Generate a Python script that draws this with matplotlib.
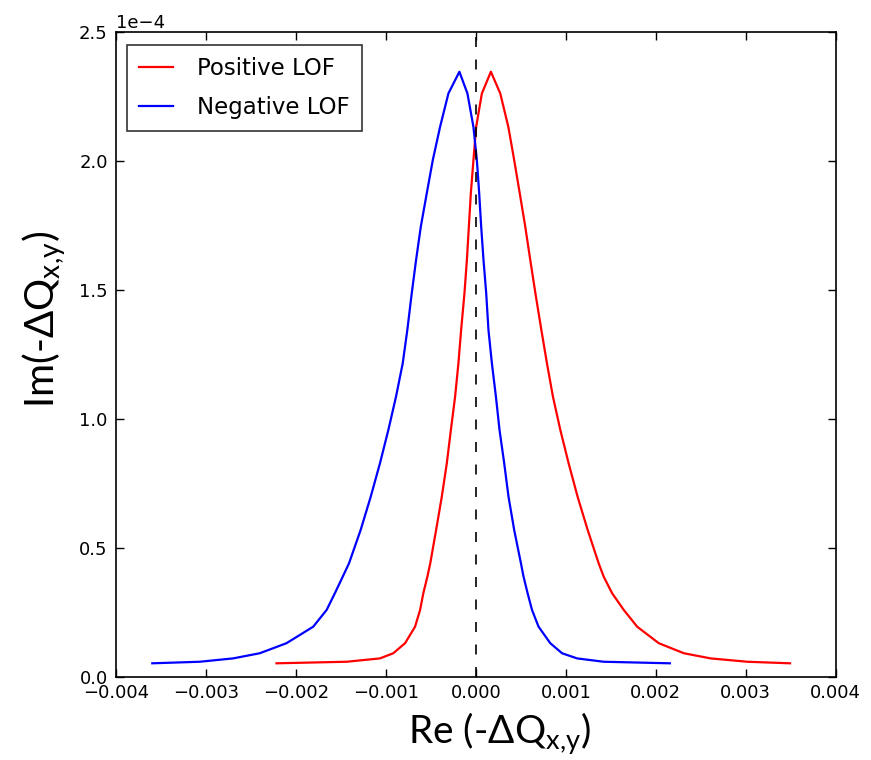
import numpy as np
import matplotlib
matplotlib.use("Agg")
import matplotlib.pyplot as plt

# ---- Data: x in units of 1e-3, y in units of 1e-4 ----
pos_x = [-2.216, -1.437, -1.066, -0.918, -0.787, -0.676, -0.620, -0.584, -0.539,
         -0.507, -0.442, -0.379, -0.323, -0.278, -0.231, -0.194, -0.164, -0.127,
         -0.100, -0.078, -0.056, -0.027, 0.003, 0.067, 0.167, 0.271, 0.361, 0.426,
         0.488, 0.549, 0.605, 0.662, 0.728, 0.790, 0.857, 0.939, 1.031, 1.131,
         1.243, 1.365, 1.421, 1.514, 1.644, 1.793, 2.033, 2.312, 2.609, 3.018, 3.492]
pos_y = [0.052, 0.058, 0.071, 0.091, 0.130, 0.194, 0.259, 0.324, 0.388,
         0.440, 0.569, 0.698, 0.828, 0.957, 1.086, 1.216, 1.345, 1.487,
         1.616, 1.746, 1.875, 2.004, 2.133, 2.263, 2.347, 2.263, 2.133, 2.004,
         1.875, 1.746, 1.616, 1.487, 1.345, 1.216, 1.086, 0.957, 0.828, 0.698,
         0.569, 0.440, 0.388, 0.324, 0.259, 0.194, 0.130, 0.091, 0.071, 0.058, 0.052]

neg_x = [-3.597, -3.070, -2.699, -2.402, -2.105, -1.808, -1.659, -1.567, -1.480,
         -1.410, -1.281, -1.169, -1.066, -0.973, -0.888, -0.813, -0.762, -0.713,
         -0.665, -0.612, -0.546, -0.479, -0.398, -0.305, -0.183, -0.094, -0.027,
         0.011, 0.037, 0.059, 0.085, 0.115, 0.140, 0.178, 0.223, 0.263, 0.315,
         0.363, 0.426, 0.501, 0.530, 0.575, 0.624, 0.697, 0.827, 0.958, 1.125,
         1.421, 2.156]
neg_y = [0.052, 0.058, 0.071, 0.091, 0.130, 0.194, 0.259, 0.324, 0.388,
         0.440, 0.569, 0.698, 0.828, 0.957, 1.086, 1.216, 1.345, 1.487,
         1.616, 1.746, 1.875, 2.004, 2.133, 2.263, 2.347, 2.263, 2.133,
         2.004, 1.875, 1.746, 1.616, 1.487, 1.345, 1.216, 1.086, 0.957, 0.828,
         0.698, 0.569, 0.440, 0.388, 0.324, 0.259, 0.194, 0.130, 0.091, 0.071,
         0.058, 0.052]

labels = ["Positive LOF", "Negative LOF"]
xticks = [-0.004, -0.003, -0.002, -0.001, 0.0, 0.001, 0.002, 0.003, 0.004]
xticklabels = ["\u22120.004", "\u22120.003", "\u22120.002", "\u22120.001", "0.000",
               "0.001", "0.002", "0.003", "0.004"]

fig = plt.figure(figsize=(8.71, 7.6), dpi=100)
ax = fig.add_axes([0.1332, 0.1096, 0.8263, 0.8479])

ax.plot(np.array(pos_x) * 1e-3, np.array(pos_y) * 1e-4, color="r", lw=1.6, label=labels[0])
ax.plot(np.array(neg_x) * 1e-3, np.array(neg_y) * 1e-4, color="b", lw=1.6, label=labels[1])
ax.axvline(0, color="k", ls="--", lw=1.2, dashes=(6, 7.5))

ax.set_xlim(-0.004, 0.004)
ax.set_ylim(0, 2.5e-4)
ax.set_xticks(xticks)
ax.set_xticklabels(xticklabels)
ax.set_yticks(np.arange(0, 2.51e-4, 0.5e-4))
ax.ticklabel_format(axis="y", style="sci", scilimits=(0, 0))
ax.tick_params(direction="in", top=True, right=True, length=6, width=1, labelsize=13)
ax.tick_params(axis="x", pad=5)
ax.tick_params(axis="y", pad=6)
ax.yaxis.get_offset_text().set_fontsize(13)
for s in ax.spines.values():
    s.set_linewidth(1.2)

leg = ax.legend(loc="upper left", fontsize=16.5, fancybox=False, handlelength=1.5,
                handletextpad=1.05, borderpad=0.52, labelspacing=0.70,
                bbox_to_anchor=(0.0153, 0.980), borderaxespad=0)
leg.get_frame().set_edgecolor("k")
leg.get_frame().set_linewidth(1.2)

lab_font = ["Lato", "DejaVu Sans"]
fig.text(0.573, 0.035, "Re (-\u0394Q$_{\\mathregular{x{,}y}}$)", fontsize=28,
         family=lab_font, ha="center", va="center")
fig.text(0.051, 0.58, "Im(-\u0394Q$_{\\mathregular{x{,}y}}$)", fontsize=29,
         family=lab_font, ha="center", va="center", rotation=90)

fig.savefig("out.png", dpi=100, facecolor="white")
